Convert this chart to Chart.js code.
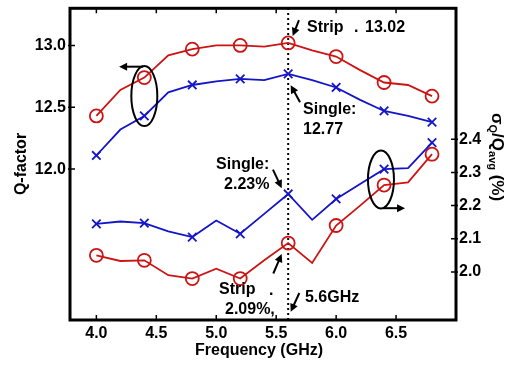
<!DOCTYPE html>
<html>
<head>
<meta charset="utf-8">
<script src="https://cdn.jsdelivr.net/npm/chart.js@4"></script>
<style>
  html, body { margin: 0; padding: 0; background: #fff; }
  #wrap { width: 514px; height: 366px; }
</style>
</head>
<body>
<div id="wrap"><canvas id="chart" width="514" height="366"></canvas></div>
<script>
// Frequency points (GHz), markers every second point
const freq = [4.0, 4.2, 4.4, 4.6, 4.8, 5.0, 5.2, 5.4, 5.6, 5.8, 6.0, 6.2, 6.4, 6.6, 6.8];
// Q-factor (left axis)
const qStrip  = [12.43, 12.64, 12.74, 12.92, 12.97, 13.00, 13.00, 12.99, 13.02, 12.96, 12.91, 12.80, 12.70, 12.68, 12.59];
const qSingle = [12.11, 12.32, 12.43, 12.62, 12.68, 12.71, 12.73, 12.72, 12.77, 12.72, 12.66, 12.56, 12.47, 12.43, 12.38];
// sigma_Q / Q_avg in % (right axis)
const sigmaSingle = [2.145, 2.152, 2.147, 2.122, 2.105, 2.155, 2.115, 2.175, 2.235, 2.157, 2.220, 2.265, 2.310, 2.313, 2.390];
const sigmaStrip  = [2.050, 2.033, 2.035, 1.990, 1.980, 2.010, 1.980, 2.035, 2.087, 2.027, 2.140, 2.200, 2.262, 2.270, 2.355];
// tick labels
const xTicks = [4.0, 4.5, 5.0, 5.5, 6.0, 6.5];
const qTicks = [12.0, 12.5, 13.0];
const sigmaTicks = [2.0, 2.1, 2.2, 2.3, 2.4];
const markerFreq = 5.6;

const FONT = "'Liberation Sans', Arial, Helvetica, sans-serif";
const RED = '#cc1414';
const BLUE = '#1414c8';
const xRange = [3.78, 7.0];
const qRange = [10.78, 13.3];
const sRange = [1.855, 2.795];

const pts = (ys) => freq.map((f, i) => ({ x: f, y: ys[i] }));
const markerRadius = (r) => (c) => (c.dataIndex % 2 === 0 ? r : 0);

// annotations in data coordinates (x: GHz, y: Q-factor axis)
const labels = [
  { t: 'Strip', x: 5.757, y: 13.14 },
  { t: '.', x: 6.149, y: 13.14 },
  { t: '13.02', x: 6.241, y: 13.14 },
  { t: 'Single:', x: 5.724, y: 12.484 },
  { t: '12.77', x: 5.724, y: 12.316 },
  { t: 'Single:', x: 4.998, y: 12.036 },
  { t: '2.23%', x: 5.065, y: 11.876 },
  { t: 'Strip', x: 5.023, y: 11.028 },
  { t: '.', x: 5.44, y: 11.02 },
  { t: '2.09%,', x: 5.073, y: 10.868 },
  { t: '5.6GHz', x: 5.74, y: 10.964 }
];
const arrows = [
  [5.690, 13.204, 5.638, 13.076],
  [5.699, 12.540, 5.621, 12.678],
  [5.473, 11.996, 5.546, 11.846],
  [5.476, 11.156, 5.546, 11.314],
  [5.693, 10.998, 5.621, 10.846],
  [4.39, 12.828, 4.19, 12.828],
  [6.39, 11.684, 6.575, 11.684]
];
const ellipses = [
  { x: 4.4, y: 12.59, rx: 13, ry: 30 },
  { x: 6.374, y: 11.916, rx: 13, ry: 29 }
];

function arrow(ctx, x1, y1, x2, y2) {
  const a = Math.atan2(y2 - y1, x2 - x1);
  const hl = 8, hw = 4;
  ctx.beginPath();
  ctx.moveTo(x1, y1);
  ctx.lineTo(x2 - Math.cos(a) * hl * 0.8, y2 - Math.sin(a) * hl * 0.8);
  ctx.stroke();
  ctx.beginPath();
  ctx.moveTo(x2, y2);
  ctx.lineTo(x2 - Math.cos(a) * hl - Math.sin(a) * hw, y2 - Math.sin(a) * hl + Math.cos(a) * hw);
  ctx.lineTo(x2 - Math.cos(a) * hl + Math.sin(a) * hw, y2 - Math.sin(a) * hl - Math.cos(a) * hw);
  ctx.closePath();
  ctx.fill();
}

const decor = {
  id: 'decor',
  afterDatasetsDraw(chart) {
    const ctx = chart.ctx;
    const xs = chart.scales.x, ys = chart.scales.y, ys1 = chart.scales.y1;
    const a = chart.chartArea;
    ctx.save();
    ctx.strokeStyle = '#000';
    ctx.fillStyle = '#000';

    // ellipses
    ctx.lineWidth = 2;
    ellipses.forEach(e => {
      ctx.beginPath();
      ctx.ellipse(xs.getPixelForValue(e.x), ys.getPixelForValue(e.y), e.rx, e.ry, 0, 0, Math.PI * 2);
      ctx.stroke();
    });
    // arrows
    arrows.forEach(r => arrow(ctx, xs.getPixelForValue(r[0]), ys.getPixelForValue(r[1]),
      xs.getPixelForValue(r[2]), ys.getPixelForValue(r[3])));

    // annotation text
    ctx.font = 'bold 16px ' + FONT;
    ctx.textAlign = 'left';
    ctx.textBaseline = 'middle';
    labels.forEach(l => ctx.fillText(l.t, xs.getPixelForValue(l.x), ys.getPixelForValue(l.y)));

    // frame
    ctx.lineWidth = 3;
    ctx.strokeRect(a.left, a.top, a.right - a.left, a.bottom - a.top);

    // inward ticks
    ctx.lineWidth = 1.5;
    ctx.beginPath();
    xTicks.forEach(v => {
      const px = xs.getPixelForValue(v);
      ctx.moveTo(px, a.bottom); ctx.lineTo(px, a.bottom - 5);
      ctx.moveTo(px, a.top); ctx.lineTo(px, a.top + 5);
    });
    qTicks.forEach(v => {
      const py = ys.getPixelForValue(v);
      ctx.moveTo(a.left - 2, py); ctx.lineTo(a.left + 5, py);
    });
    sigmaTicks.forEach(v => {
      const py = ys1.getPixelForValue(v);
      ctx.moveTo(a.right - 5, py); ctx.lineTo(a.right + 2, py);
    });
    ctx.stroke();

    // axis titles
    ctx.textAlign = 'center';
    ctx.font = 'bold 16px ' + FONT;
    ctx.fillText('Frequency (GHz)', (a.left + a.right) / 2 - 4, 351);

    ctx.save();
    ctx.translate(22, 164);
    ctx.rotate(-Math.PI / 2);
    ctx.fillText('Q-factor', 0, 0);
    ctx.restore();

    // right title with subscripts
    const parts = [
      ['σ', false], ['Q', true], ['/Q', false], ['avg', true], [' (%)', false]
    ];
    const mainF = 'bold 17px ' + FONT, subF = 'bold 11px ' + FONT;
    let total = 0;
    parts.forEach(p => { ctx.font = p[1] ? subF : mainF; total += ctx.measureText(p[0]).width; });
    ctx.save();
    ctx.translate(497, 157);
    ctx.rotate(Math.PI / 2);
    ctx.textAlign = 'left';
    let cx = -total / 2;
    parts.forEach(p => {
      ctx.font = p[1] ? subF : mainF;
      ctx.fillText(p[0], cx, p[1] ? 5 : 0);
      cx += ctx.measureText(p[0]).width;
    });
    ctx.restore();

    ctx.restore();
  }
};

const tickFont = { family: FONT, size: 16, weight: 'bold' };
const noPad = (s) => { s.paddingTop = 0; s.paddingBottom = 0; s.paddingLeft = 0; s.paddingRight = 0; };

new Chart(document.getElementById('chart'), {
  type: 'line',
  data: {
    datasets: [
      {
        data: pts(qStrip), yAxisID: 'y', borderColor: RED, borderWidth: 1.8,
        pointStyle: 'circle', pointRadius: markerRadius(6.5), pointBorderColor: RED,
        pointBackgroundColor: 'rgba(0,0,0,0)', pointBorderWidth: 1.8, tension: 0
      },
      {
        data: pts(qSingle), yAxisID: 'y', borderColor: BLUE, borderWidth: 1.8,
        pointStyle: 'crossRot', pointRadius: markerRadius(6), pointBorderColor: BLUE,
        pointBorderWidth: 1.8, tension: 0
      },
      {
        data: pts(sigmaSingle), yAxisID: 'y1', borderColor: BLUE, borderWidth: 1.8,
        pointStyle: 'crossRot', pointRadius: markerRadius(6), pointBorderColor: BLUE,
        pointBorderWidth: 1.8, tension: 0
      },
      {
        data: pts(sigmaStrip), yAxisID: 'y1', borderColor: RED, borderWidth: 1.8,
        pointStyle: 'circle', pointRadius: markerRadius(6.5), pointBorderColor: RED,
        pointBackgroundColor: 'rgba(0,0,0,0)', pointBorderWidth: 1.8, tension: 0
      },
      {
        // vertical dotted marker at 5.6 GHz
        data: [{ x: markerFreq, y: qRange[0] }, { x: markerFreq, y: qRange[1] }],
        yAxisID: 'y', borderColor: '#000', borderWidth: 2, borderDash: [2, 3],
        pointRadius: 0
      }
    ]
  },
  options: {
    responsive: false,
    animation: false,
    layout: { padding: { top: 5, left: 0, right: 0, bottom: 0 } },
    plugins: { legend: { display: false }, tooltip: { enabled: false } },
    scales: {
      x: {
        type: 'linear', min: xRange[0], max: xRange[1],
        grid: { display: false, drawTicks: false }, border: { display: false },
        afterBuildTicks: s => { s.ticks = xTicks.map(v => ({ value: v })); },
        afterFit: s => { s.height = 46; noPad(s); },
        ticks: { color: '#000', font: tickFont, padding: 4, maxRotation: 0,
          callback: v => v.toFixed(1) }
      },
      y: {
        type: 'linear', position: 'left', min: qRange[0], max: qRange[1],
        grid: { display: false, drawTicks: false }, border: { display: false },
        afterBuildTicks: s => { s.ticks = qTicks.map(v => ({ value: v })); },
        afterFit: s => { s.width = 70; noPad(s); },
        ticks: { color: '#000', font: tickFont, padding: 4, callback: v => v.toFixed(1) }
      },
      y1: {
        type: 'linear', position: 'right', min: sRange[0], max: sRange[1],
        grid: { display: false, drawTicks: false }, border: { display: false },
        afterBuildTicks: s => { s.ticks = sigmaTicks.map(v => ({ value: v })); },
        afterFit: s => { s.width = 58; noPad(s); },
        ticks: { color: '#000', font: tickFont, padding: 3, callback: v => v.toFixed(1) }
      }
    }
  },
  plugins: [decor]
});
</script>
</body>
</html>
